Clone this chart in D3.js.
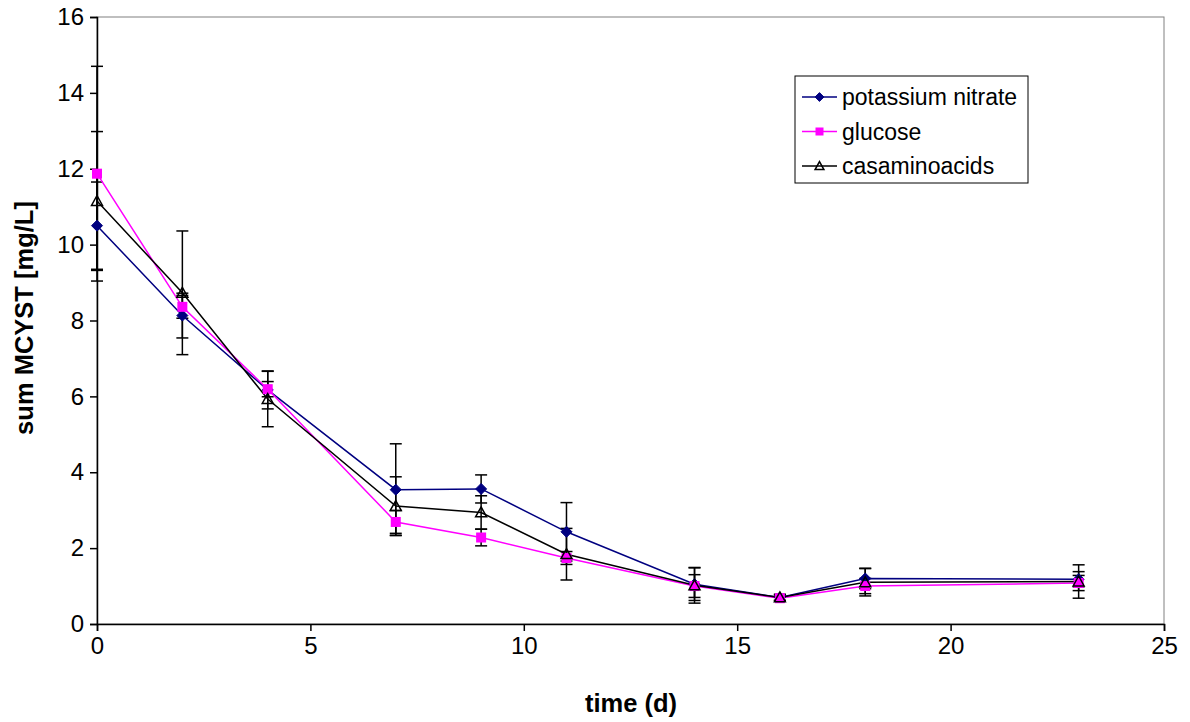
<!DOCTYPE html>
<html><head><meta charset="utf-8">
<script src="https://cdn.jsdelivr.net/npm/d3@7"></script>
<style>body{margin:0;background:#fff}svg text{font-family:"Liberation Sans",Arial,sans-serif}</style>
</head><body><svg id="c" width="1190" height="722"></svg>
<script>
const times = [0, 2, 4, 7, 9, 11, 14, 16, 18, 23];
const potassiumNitrate = [10.5, 8.13, 6.17, 3.54, 3.56, 2.43, 1.05, 0.7, 1.2, 1.18];
const potassiumNitrateErr = [1.15, 0.59, 0.5, 1.21, 0.37, 0.77, 0.43, 0.08, 0.27, 0.2];
const glucose = [11.87, 8.36, 6.19, 2.69, 2.28, 1.74, 1.0, 0.68, 1.0, 1.08];
const glucoseErr = [2.83, 0.3, 0.2, 0.3, 0.22, 0.17, 0.3, 0.06, 0.2, 0.2];
const casaminoacids = [11.15, 8.73, 5.93, 3.11, 2.94, 1.84, 1.02, 0.7, 1.1, 1.12];
const casaminoacidsErr = [1.83, 1.63, 0.73, 0.77, 0.44, 0.68, 0.47, 0.08, 0.36, 0.44];
const xTicks = [0, 5, 10, 15, 20, 25];
const yTicks = [0, 2, 4, 6, 8, 10, 12, 14, 16];
const seriesNames = ["potassium nitrate", "glucose", "casaminoacids"];

const series = [
  {name: seriesNames[0], v: potassiumNitrate, e: potassiumNitrateErr, color: "#000080", marker: "diamond"},
  {name: seriesNames[1], v: glucose, e: glucoseErr, color: "#FF00FF", marker: "square"},
  {name: seriesNames[2], v: casaminoacids, e: casaminoacidsErr, color: "#000000", marker: "triangle"}
];

const svg = d3.select("#c");
const L = 97, R = 1164, T = 17, B = 624;
const x = d3.scaleLinear().domain([0, 25]).range([L, R]);
const y = d3.scaleLinear().domain([0, 16]).range([B, T]);

// plot frame
svg.append("rect").attr("x", L).attr("y", T).attr("width", R - L).attr("height", B - T)
  .attr("fill", "none").attr("stroke", "#808080").attr("stroke-width", 1);

const font = 24;
const yAxis = svg.append("g").attr("transform", `translate(${L},0)`)
  .call(d3.axisLeft(y).tickValues(yTicks).tickSize(7).tickPadding(6).tickFormat(d3.format("d")));
const xAxis = svg.append("g").attr("transform", `translate(0,${B})`)
  .call(d3.axisBottom(x).tickValues(xTicks).tickSize(7).tickPadding(6).tickFormat(d3.format("d")));
[xAxis, yAxis].forEach(g => {
  g.select(".domain").attr("stroke", "#000").attr("stroke-width", 1.5);
  g.selectAll(".tick line").attr("stroke", "#000").attr("stroke-width", 1.5);
  g.selectAll(".tick text").attr("font-size", font).attr("fill", "#000")
    .style("font-family", '"Liberation Sans",Arial,sans-serif');
});

svg.append("text").attr("x", 631).attr("y", 712).attr("text-anchor", "middle")
  .attr("font-size", 25.5).attr("font-weight", "bold").text("time (d)");
svg.append("text").attr("transform", `translate(33,318) rotate(-90)`)
  .attr("text-anchor", "middle").attr("font-size", 25.5).attr("font-weight", "bold")
  .text("sum MCYST [mg/L]");

// error bars (black)
const capW = 6;
series.forEach(s => {
  const g = svg.append("g");
  times.forEach((t, i) => {
    const cx = x(t), y1 = y(s.v[i] + s.e[i]), y2 = y(s.v[i] - s.e[i]);
    g.append("line").attr("x1", cx).attr("x2", cx).attr("y1", y1).attr("y2", y2)
      .attr("stroke", "#000").attr("stroke-width", 1.5);
    [y1, y2].forEach(yy => g.append("line").attr("x1", cx - capW).attr("x2", cx + capW)
      .attr("y1", yy).attr("y2", yy).attr("stroke", "#000").attr("stroke-width", 1.5));
  });
});

const line = d3.line().x((d, i) => x(times[i])).y(d => y(d));
series.forEach(s => {
  svg.append("path").datum(s.v).attr("d", line).attr("fill", "none")
    .attr("stroke", s.color).attr("stroke-width", 1.5);
});

function drawMarker(g, type, cx, cy, color, sc) {
  sc = sc || 1;
  if (type === "diamond") {
    const r = 5.5 * sc;
    g.append("path").attr("d", `M${cx},${cy - r}L${cx + r},${cy}L${cx},${cy + r}L${cx - r},${cy}Z`)
      .attr("fill", color).attr("stroke", color);
  } else if (type === "square") {
    const r = 5 * sc;
    g.append("rect").attr("x", cx - r).attr("y", cy - r).attr("width", 2 * r).attr("height", 2 * r)
      .attr("fill", color);
  } else {
    const r = 5.5 * sc;
    g.append("path").attr("d", `M${cx},${cy - r}L${cx + r},${cy + r * 0.8}L${cx - r},${cy + r * 0.8}Z`)
      .attr("fill", "none").attr("stroke", color).attr("stroke-width", 1.5);
  }
}
series.forEach(s => {
  const g = svg.append("g");
  s.v.forEach((v, i) => drawMarker(g, s.marker, x(times[i]), y(v), s.color));
});

// legend
const lg = svg.append("g");
lg.append("rect").attr("x", 795).attr("y", 76).attr("width", 233).attr("height", 107)
  .attr("fill", "#fff").attr("stroke", "#000").attr("stroke-width", 1);
series.forEach((s, i) => {
  const yy = 97 + i * 34.5;
  lg.append("line").attr("x1", 802).attr("x2", 837).attr("y1", yy).attr("y2", yy)
    .attr("stroke", s.color).attr("stroke-width", 1.5);
  drawMarker(lg, s.marker, 819.5, yy, s.color, 0.8);
  lg.append("text").attr("x", 842).attr("y", yy + 8).attr("font-size", 23).text(s.name);
});
</script></body></html>
